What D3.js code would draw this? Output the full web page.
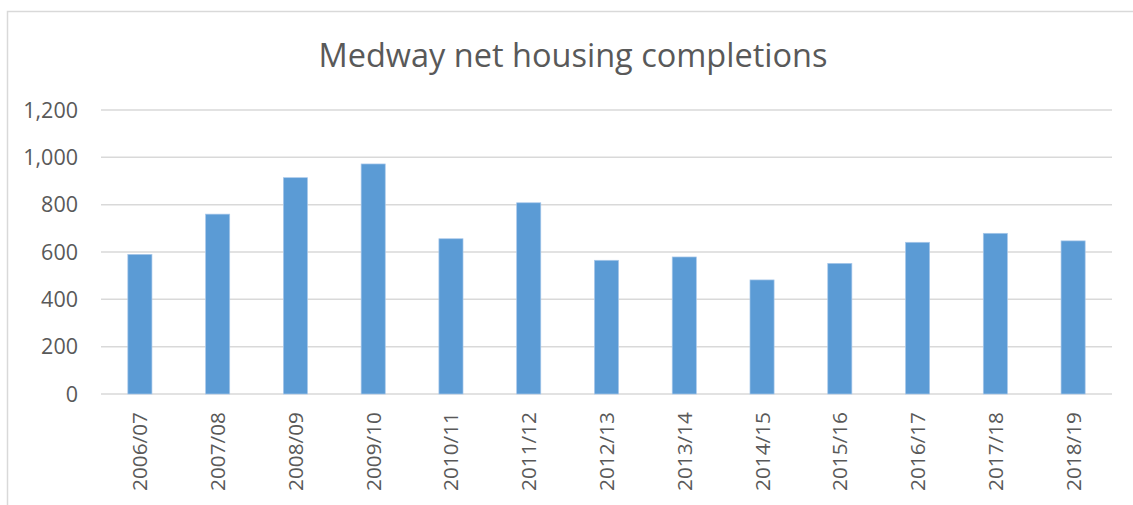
<!DOCTYPE html>
<html>
<head>
<meta charset="utf-8">
<script src="https://cdn.jsdelivr.net/npm/d3@7"></script>
<style>
  body { margin: 0; background: #fff; }
  text { font-family: "Open Sans", sans-serif; fill: #595959; }
</style>
</head>
<body>
<svg width="1133" height="505"></svg>
<script>
"use strict";

var years = ["2006/07", "2007/08", "2008/09", "2009/10", "2010/11", "2011/12", "2012/13",
             "2013/14", "2014/15", "2015/16", "2016/17", "2017/18", "2018/19"];
var completions = [590, 760, 914, 972, 656, 808, 565, 579, 482, 552, 641, 679, 647];
var yTicks = [0, 200, 400, 600, 800, 1000, 1200];
var title = "Medway net housing completions";

var svg = d3.select("svg"),
    plotLeft = 101, plotRight = 1112, plotTop = 110, plotBottom = 394;

// chart border, cut off at right and bottom like the original
svg.append("rect")
    .attr("x", 7.5).attr("y", 11.5)
    .attr("width", 1140).attr("height", 520)
    .attr("fill", "none")
    .attr("stroke", "#d9d9d9")
    .attr("stroke-width", 1.5);

svg.append("text")
    .attr("x", 573).attr("y", 67)
    .attr("text-anchor", "middle")
    .style("font-size", "32.5px")
    .text(title);

var x = d3.scaleBand()
    .domain(years)
    .range([plotLeft, plotRight])
    .paddingInner(0.69)
    .paddingOuter(0.345);

var y = d3.scaleLinear()
    .domain([0, 1200])
    .range([plotBottom, plotTop]);

// gridlines
svg.append("g")
    .selectAll("line")
    .data(yTicks)
    .enter().append("line")
    .attr("x1", plotLeft).attr("x2", plotRight)
    .attr("y1", d => y(d)).attr("y2", d => y(d))
    .attr("stroke", "#d9d9d9")
    .attr("stroke-width", 1.5);

// y labels
svg.append("g")
    .selectAll("text")
    .data(yTicks)
    .enter().append("text")
    .attr("x", 78)
    .attr("y", d => y(d))
    .attr("dy", "0.36em")
    .attr("text-anchor", "end")
    .style("font-size", "21.5px")
    .text(d => d3.format(",")(d));

svg.append("g")
    .selectAll("rect")
    .data(completions)
    .enter().append("rect")
    .attr("x", (d, i) => x(years[i]))
    .attr("width", x.bandwidth())
    .attr("y", d => y(d))
    .attr("height", d => y(0) - y(d))
    .attr("fill", "#5b9bd5")
    .attr("stroke", "#a9c8ea")
    .attr("stroke-width", 0.7);

// x labels, rotated
svg.append("g")
    .selectAll("text")
    .data(years)
    .enter().append("text")
    .attr("transform", d => "translate(" + (x(d) + x.bandwidth() / 2) + ",412) rotate(-90)")
    .attr("dy", "0.36em")
    .attr("text-anchor", "end")
    .style("font-size", "20.8px")
    .text(d => d);
</script>
</body>
</html>
